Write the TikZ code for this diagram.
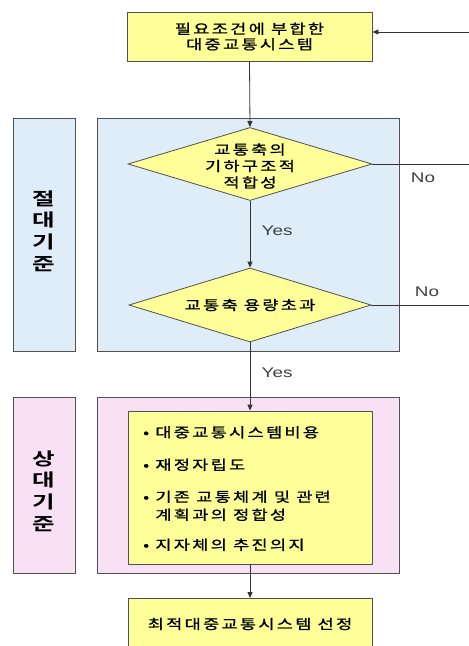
\documentclass[tikz,border=0pt]{standalone}
\usepackage{fontspec}
\usetikzlibrary{shapes.geometric,arrows.meta}
\newfontfamily\kr[FakeStretch=1.3,LetterSpace=17,FakeBold=1]{Noto Sans CJK KR}
\newfontfamily\krb[FakeStretch=1.4]{Noto Sans CJK KR Bold}
\newfontfamily\lat[FakeStretch=1.35]{Liberation Sans}
\definecolor{boxyellow}{RGB}{255,255,153}
\definecolor{boxblue}{RGB}{222,237,248}
\definecolor{boxpink}{RGB}{249,225,245}
\definecolor{edge}{RGB}{80,80,80}
\tikzset{
  ybox/.style={draw=edge, fill=boxyellow, line width=0.8pt, minimum width=245pt, align=center, inner sep=0pt,
    font=\kr\fontsize{13.5}{15.5}\selectfont},
  panel/.style={draw=edge, line width=0.8pt},
  sidelabel/.style={font=\krb\fontsize{17.5}{21.7}\selectfont, align=center},
  yn/.style={font=\lat\fontsize{14}{16}\selectfont, text=black!75},
  conn/.style={draw=black!80, line width=0.8pt, -{Triangle[length=6pt,width=5pt]}},
  plain/.style={draw=black!80, line width=0.8pt}
}
\begin{document}
\begin{tikzpicture}[x=1pt,y=-1pt]
\useasboundingbox (0,0) rectangle (469,646);
\clip (0,0) rectangle (469,646);
\fill[white] (0,0) rectangle (469,646);
% panels
\draw[panel, fill=boxblue] (97,118) rectangle (399,351);
\draw[panel, fill=boxblue] (13,118) rectangle (75,351);
\draw[panel, fill=boxpink] (97,397) rectangle (399,573);
\draw[panel, fill=boxpink] (13,397) rectangle (75,573);
\node[sidelabel] (abs) at (44,231) {절\\대\\기\\준};
\node[sidelabel] (rel) at (44,491) {상\\대\\기\\준};
% nodes
\node[ybox, minimum height=49pt] (top) at (249.5,36.5) {필요조건에 부합한\\대중교통시스템};
\node[draw=edge, fill=boxyellow, line width=0.8pt, diamond, minimum width=244pt, minimum height=73pt, inner sep=0pt] (d1) at (250,164) {};
\node[align=center, font=\kr\fontsize{13.5}{16.5}\selectfont] (d1t) at (250,166) {교통축의\\기하구조적\\적합성};
\node[draw=edge, fill=boxyellow, line width=0.8pt, diamond, minimum width=242pt, minimum height=74pt, inner sep=0pt] (d2) at (250,305) {};
\node[font=\kr\fontsize{13.5}{16}\selectfont] (d2t) at (250,305) {교통축 용량초과};
\node[ybox, minimum width=244pt, minimum height=153pt] (crit) at (250,487.5) {};
\node[anchor=north west, align=left, font=\kr\fontsize{13.5}{18}\selectfont, inner sep=0pt] (critt) at (143,426)
 {• 대중교통시스템비용\\[14.5pt]• 재정자립도\\[14pt]• 기존 교통체계 및 관련\\\hphantom{• }계획과의 정합성\\[12pt]• 지자체의 추진의지};
\node[ybox, minimum width=244pt, minimum height=52pt, anchor=north, text height=0pt] (final) at (250,598) {};
\node[font=\kr\fontsize{13.5}{16}\selectfont] (finalt) at (250,624) {최적대중교통시스템 선정};
% coordinates
\coordinate (rtop) at (469,32);
\coordinate (r1) at (469,164);
\coordinate (r2) at (469,305);
% connectors
\draw[conn] (rtop) -- (top.east |- rtop);
\draw[conn] (top.south) -- (d1.north);
\draw[plain] (d1.east) -- (r1);
\draw[plain] (d2.east) -- (r2);
\draw[conn] (d1.south) -- node[yn, right=8pt, pos=0.45] (yes1) {Yes} (d2.north);
\draw[conn] (d2.south) -- node[yn, right=8pt, pos=0.45] (yes2) {Yes} (crit.north);
\draw[conn] (crit.south) -- (final.north);
\node[yn] (no1) at (423,178) {No};
\node[yn] (no2) at (427,292) {No};
\end{tikzpicture}
\end{document}
